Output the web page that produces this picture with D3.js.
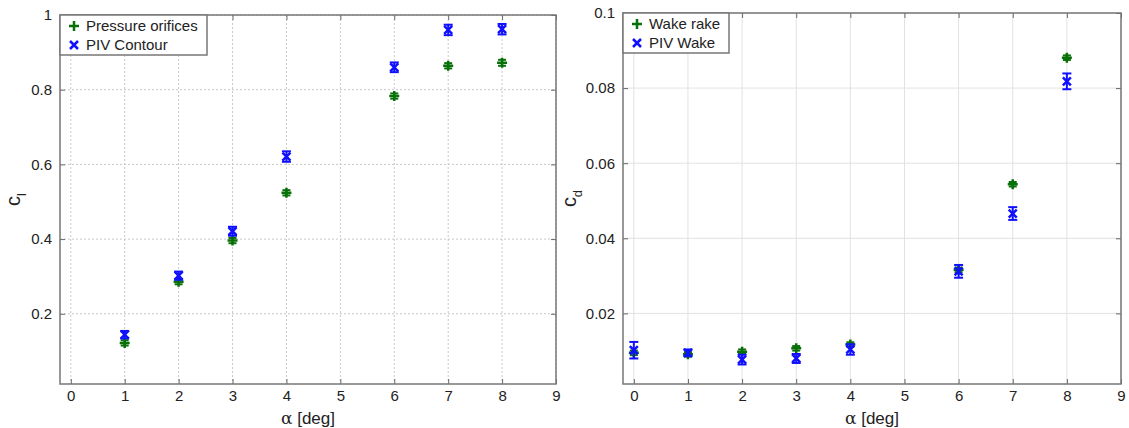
<!DOCTYPE html>
<html>
<head>
<meta charset="utf-8">
<script src="https://cdn.jsdelivr.net/npm/d3@7"></script>
<style>
  html, body { margin: 0; padding: 0; background: #fff; }
  svg { display: block; font-family: "Liberation Sans", Arial, sans-serif; }
</style>
</head>
<body>
<svg id="chart" width="1129" height="428"></svg>
<script>
// left panel: lift coefficient
const alphaCl = [1, 2, 3, 4, 6, 7, 8];
const clPressure = [0.122, 0.286, 0.396, 0.524, 0.783, 0.864, 0.872];
const clPressureErr = [0.007, 0.007, 0.007, 0.007, 0.007, 0.007, 0.008];
const clPIV = [0.144, 0.302, 0.421, 0.621, 0.860, 0.960, 0.962];
const clPIVErr = [0.010, 0.011, 0.012, 0.014, 0.013, 0.014, 0.014];

// right panel: drag coefficient
const alphaCd = [0, 1, 2, 3, 4, 6, 7, 8];
const cdRake = [0.0095, 0.0091, 0.0098, 0.0107, 0.0117, 0.0316, 0.0544, 0.0881];
const cdRakeErr = [0.0006, 0.0006, 0.0006, 0.0006, 0.0006, 0.0006, 0.0006, 0.0006];
const cdPIV = [0.0102, 0.0095, 0.0077, 0.0080, 0.0104, 0.0312, 0.0466, 0.0818];
const cdPIVErr = [0.0022, 0.0009, 0.0013, 0.0012, 0.0014, 0.0017, 0.0017, 0.0021];

const xTicks = [0, 1, 2, 3, 4, 5, 6, 7, 8, 9];
const clTicks = [0.2, 0.4, 0.6, 0.8, 1];
const cdTicks = [0.02, 0.04, 0.06, 0.08, 0.1];

const GREEN = "#087008";
const BLUE = "#1010ff";
const svg = d3.select("#chart");

function panel(opt) {
  const x = d3.scaleLinear().domain([-0.2, 9]).range([opt.left, opt.right]);
  const y = d3.scaleLinear().domain(opt.yDomain).range([opt.bottom, opt.top]);
  const g = svg.append("g");

  // grid
  g.selectAll(".gx").data(xTicks).enter().append("line")
    .attr("x1", d => x(d)).attr("x2", d => x(d))
    .attr("y1", opt.top).attr("y2", opt.bottom)
    .attr("stroke", opt.gridColor).attr("stroke-width", 1)
    .attr("stroke-dasharray", opt.gridDash);
  g.selectAll(".gy").data(opt.yTicks).enter().append("line")
    .attr("x1", opt.left).attr("x2", opt.right)
    .attr("y1", d => y(d)).attr("y2", d => y(d))
    .attr("stroke", opt.gridColor).attr("stroke-width", 1)
    .attr("stroke-dasharray", opt.gridDash);

  // axes (labels outside, ticks inward)
  const axB = g.append("g").attr("transform", `translate(0,${opt.bottom})`)
    .call(d3.axisBottom(x).tickValues(xTicks).tickSize(-5).tickPadding(6).tickFormat(d3.format("d")));
  const axT = g.append("g").attr("transform", `translate(0,${opt.top})`)
    .call(d3.axisTop(x).tickValues(xTicks).tickSize(-5).tickFormat(""));
  const axL = g.append("g").attr("transform", `translate(${opt.left},0)`)
    .call(d3.axisLeft(y).tickValues(opt.yTicks).tickSize(-5).tickPadding(8).tickFormat(d => String(+d.toFixed(3))));
  const axR = g.append("g").attr("transform", `translate(${opt.right},0)`)
    .call(d3.axisRight(y).tickValues(opt.yTicks).tickSize(-5).tickFormat(""));
  [axB, axT, axL, axR].forEach(a => {
    a.select(".domain").remove();
    a.selectAll(".tick line").attr("stroke", "#666").attr("stroke-width", 1);
    a.selectAll(".tick text").attr("fill", "#222").style("font-size", "15px")
      .style("font-family", "'Liberation Sans', Arial, sans-serif");
  });

  g.append("rect")
    .attr("x", opt.left).attr("y", opt.top)
    .attr("width", opt.right - opt.left).attr("height", opt.bottom - opt.top)
    .attr("fill", "none").attr("stroke", "#777").attr("stroke-width", 1.5);

  // error bars + markers
  function series(xs, ys, errs, color, capW, kind) {
    const sg = g.append("g").attr("stroke", color).attr("stroke-width", 2).attr("fill", "none");
    xs.forEach((a, i) => {
      const cx = x(a), yc = y(ys[i]);
      const y0 = y(ys[i] - errs[i]), y1 = y(ys[i] + errs[i]);
      sg.append("line").attr("x1", cx).attr("x2", cx).attr("y1", y0).attr("y2", y1);
      sg.append("line").attr("x1", cx - capW / 2).attr("x2", cx + capW / 2).attr("y1", y0).attr("y2", y0);
      sg.append("line").attr("x1", cx - capW / 2).attr("x2", cx + capW / 2).attr("y1", y1).attr("y2", y1);
      if (kind === "plus") {
        sg.append("path").attr("d", `M${cx - 5},${yc}H${cx + 5}M${cx},${yc - 5}V${yc + 5}`).attr("stroke-width", 2.5);
      } else {
        sg.append("path").attr("d", `M${cx - 4},${yc - 4}L${cx + 4},${yc + 4}M${cx - 4},${yc + 4}L${cx + 4},${yc - 4}`).attr("stroke-width", 2.5);
      }
    });
  }
  series(opt.a1, opt.s1, opt.e1, GREEN, 8, "plus");
  series(opt.a2, opt.s2, opt.e2, BLUE, 9, "x");

  // legend
  const lg = g.append("g");
  lg.append("rect").attr("x", opt.left).attr("y", opt.top)
    .attr("width", opt.legendW).attr("height", 40)
    .attr("fill", "#fff").attr("stroke", "#777").attr("stroke-width", 1.5);
  const mx = opt.left + 14;
  const r1 = opt.top + 11, r2 = opt.top + 30;
  lg.append("path").attr("d", `M${mx - 5},${r1}H${mx + 5}M${mx},${r1 - 5}V${r1 + 5}`)
    .attr("stroke", GREEN).attr("stroke-width", 2.5);
  lg.append("path").attr("d", `M${mx - 4},${r2 - 4}L${mx + 4},${r2 + 4}M${mx - 4},${r2 + 4}L${mx + 4},${r2 - 4}`)
    .attr("stroke", BLUE).attr("stroke-width", 2.5);
  lg.selectAll("text").data(opt.names).enter().append("text")
    .attr("x", mx + 12).attr("y", (d, i) => (i === 0 ? r1 : r2) + 5)
    .attr("fill", "#222").style("font-size", "15px").text(d => d);

  // axis titles
  const xt = g.append("text").attr("x", (opt.left + opt.right) / 2).attr("y", 424)
    .attr("text-anchor", "middle").attr("fill", "#222").style("font-size", "17px");
  xt.append("tspan").style("font-family", "'DejaVu Serif', serif").text("α");
  xt.append("tspan").text(" [deg]");

  const yt = g.append("text")
    .attr("transform", `translate(${opt.yLabelX},${(opt.top + opt.bottom) / 2}) rotate(-90)`)
    .attr("text-anchor", "middle").attr("fill", "#222").style("font-size", "20px");
  yt.append("tspan").text("c");
  yt.append("tspan").attr("dy", 6).style("font-size", "13px").text(opt.sub);
}

panel({
  left: 60, right: 556, top: 15, bottom: 384,
  yDomain: [0.012, 1], yTicks: clTicks,
  gridColor: "#c8c8c8", gridDash: "2,2",
  a1: alphaCl, s1: clPressure, e1: clPressureErr,
  a2: alphaCl, s2: clPIV, e2: clPIVErr,
  names: ["Pressure orifices", "PIV Contour"], legendW: 147,
  yLabelX: 20, sub: "l"
});

panel({
  left: 623, right: 1121, top: 13, bottom: 384,
  yDomain: [0.0012, 0.1], yTicks: cdTicks,
  gridColor: "#e2e2e2", gridDash: null,
  a1: alphaCd, s1: cdRake, e1: cdRakeErr,
  a2: alphaCd, s2: cdPIV, e2: cdPIVErr,
  names: ["Wake rake", "PIV Wake"], legendW: 106,
  yLabelX: 576, sub: "d"
});
</script>
</body>
</html>
